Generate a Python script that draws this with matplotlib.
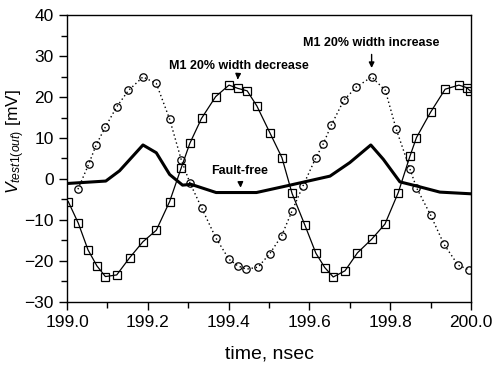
import matplotlib
matplotlib.use('Agg')
import matplotlib.pyplot as plt
from matplotlib.ticker import MultipleLocator

plt.rcParams['font.family'] = ['Liberation Sans Narrow', 'Liberation Sans', 'DejaVu Sans']
plt.rcParams['mathtext.fontset'] = 'custom'
plt.rcParams['mathtext.rm'] = 'Liberation Sans'
plt.rcParams['mathtext.it'] = 'Liberation Sans:italic'

# M1 20% width decrease (squares, solid)
dec_t = [199.003, 199.028, 199.052, 199.074, 199.095, 199.123, 199.155, 199.188, 199.221,
         199.254, 199.283, 199.304, 199.333, 199.368, 199.401, 199.423, 199.446, 199.470,
         199.502, 199.532, 199.557, 199.589, 199.616, 199.638, 199.659, 199.688, 199.719,
         199.754, 199.787, 199.820, 199.849, 199.865, 199.900, 199.936, 199.970, 199.989, 199.998]
dec_v = [-5.5, -10.8, -17.3, -21.2, -23.8, -23.4, -19.2, -15.3, -12.5,
         -5.5, 2.8, 8.7, 14.8, 20.1, 22.9, 22.1, 21.5, 17.8,
         11.3, 5.2, -3.5, -11.3, -18.1, -21.6, -23.9, -22.4, -18.0,
         -14.7, -11.0, -3.3, 5.6, 10.1, 16.3, 21.9, 22.9, 22.3, 21.5]

# M1 20% width increase (circles, dotted)
inc_t = [199.027, 199.054, 199.072, 199.095, 199.123, 199.152, 199.188, 199.221, 199.254,
         199.283, 199.304, 199.333, 199.368, 199.401, 199.423, 199.444, 199.473, 199.502,
         199.531, 199.557, 199.584, 199.616, 199.634, 199.654, 199.685, 199.716, 199.754,
         199.788, 199.815, 199.849, 199.865, 199.900, 199.933, 199.968, 199.996]
inc_v = [-2.5, 3.7, 8.3, 12.7, 17.6, 21.6, 24.9, 23.3, 14.6,
         4.6, -0.9, -7.0, -14.3, -19.6, -21.2, -22.0, -21.5, -18.2,
         -13.9, -7.8, -1.7, 5.2, 8.5, 13.1, 19.2, 22.4, 24.9,
         21.6, 12.1, 2.4, -2.1, -8.8, -15.9, -21.0, -22.2]

# fault-free (thick line)
ff_t = [199.0, 199.096, 199.130, 199.188, 199.221, 199.254, 199.286, 199.307, 199.369,
        199.435, 199.469, 199.552, 199.651, 199.700, 199.752, 199.783, 199.824, 199.865,
        199.923, 199.998]
ff_v = [-1.1, -0.5, 2.0, 8.3, 6.4, 1.1, -1.5, -1.3, -3.3,
        -3.3, -3.3, -1.5, 0.7, 4.0, 8.3, 4.8, -0.7, -1.7,
        -3.2, -3.6]

fig = plt.figure(figsize=(4.95, 3.79), dpi=100)
ax = fig.add_axes([0.1354, 0.2032, 0.8161, 0.7572])

ax.plot(ff_t, ff_v, color='black', lw=2.2, solid_joinstyle='round')
ax.plot(dec_t, dec_v, color='black', lw=0.9, marker='s', ms=5.3,
        mfc='none', mec='black', mew=0.9)
ax.plot(inc_t, inc_v, color='black', lw=1.0, ls=(0, (1.0, 2.0)), marker='o', ms=5.3,
        mfc='none', mec='black', mew=0.9)

ax.set_xlim(199.0, 200.0)
ax.set_ylim(-30, 40)
ax.xaxis.set_major_locator(MultipleLocator(0.2))
ax.xaxis.set_minor_locator(MultipleLocator(0.1))
ax.yaxis.set_major_locator(MultipleLocator(10))
ax.yaxis.set_minor_locator(MultipleLocator(5))
ax.xaxis.set_major_formatter(plt.FuncFormatter(lambda v, p: f"{v:.1f}"))
ax.tick_params(which='both', direction='out', top=False, right=False, width=1.0)
ax.tick_params(which='major', length=6, labelsize=12.5)
ax.tick_params(which='minor', length=4)
for s in ax.spines.values():
    s.set_linewidth(1.0)

ax.set_xlabel('time, nsec', fontsize=14, family=['Liberation Sans', 'DejaVu Sans'], labelpad=11)
ax.set_ylabel(r'$V_{test1(out)}$ [mV]', fontsize=12.5, family=['Liberation Sans', 'DejaVu Sans'])
ax.yaxis.set_label_coords(-0.1, 0.56)

ann = dict(arrowstyle='-|>', color='black', lw=1.0, mutation_scale=8)
ax.annotate('M1 20% width decrease', xy=(199.422, 23.6), xytext=(199.425, 27.6),
            ha='center', va='center', fontsize=9, fontweight='bold', arrowprops=ann)
ax.annotate('M1 20% width increase', xy=(199.754, 26.4), xytext=(199.754, 33.2),
            ha='center', va='center', fontsize=9, fontweight='bold', arrowprops=ann)
ax.annotate('Fault-free', xy=(199.43, -2.8), xytext=(199.428, 1.9),
            ha='center', va='center', fontsize=9, fontweight='bold', arrowprops=ann)

fig.savefig('out.png', dpi=100)
